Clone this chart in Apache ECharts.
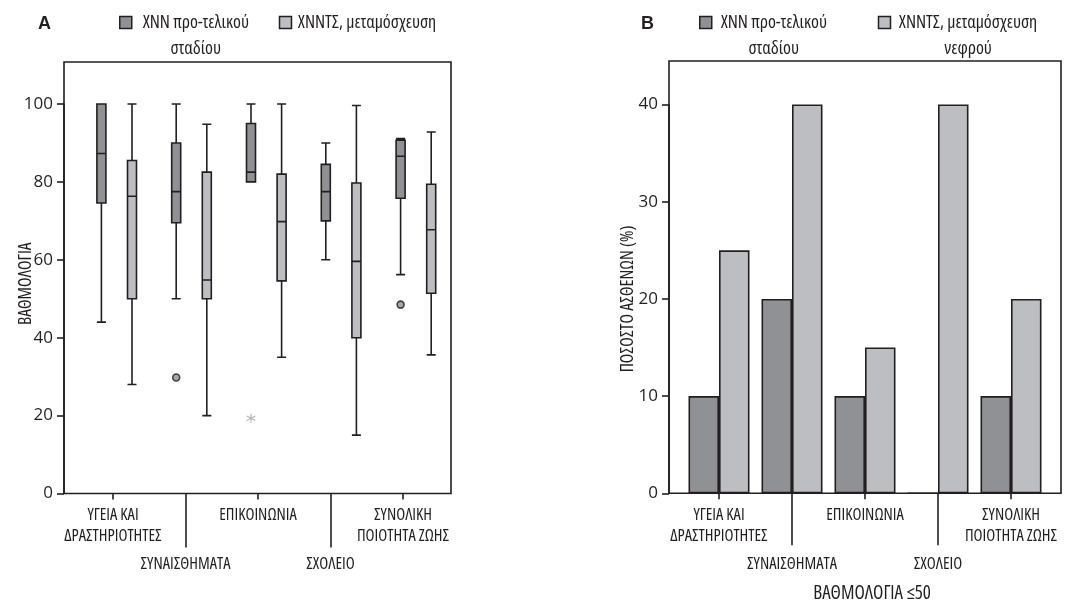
<!DOCTYPE html>
<html>
<head>
<meta charset="utf-8">
<script src="https://cdn.jsdelivr.net/npm/echarts@6/dist/echarts.min.js"></script>
<style>
html,body{margin:0;padding:0;background:#fff;}
#main{width:1081px;height:602px;}
</style>
</head>
<body>
<div id="main"></div>
<script>
// ---------- DATA ----------
const categories = ['ΥΓΕΙΑ ΚΑΙ\nΔΡΑΣΤΗΡΙΟΤΗΤΕΣ', 'ΣΥΝΑΙΣΘΗΜΑΤΑ', 'ΕΠΙΚΟΙΝΩΝΙΑ', 'ΣΧΟΛΕΙΟ', 'ΣΥΝΟΛΙΚΗ\nΠΟΙΟΤΗΤΑ ΖΩΗΣ'];
const seriesNames = ['ΧΝΝ προ-τελικού σταδίου', 'ΧΝΝΤΣ, μεταμόσχευση νεφρού'];
const legendLabelsA = ['ΧΝΝ προ-τελικού\nσταδίου', 'ΧΝΝΤΣ, μεταμόσχευση'];
const legendLabelsB = ['ΧΝΝ προ-τελικού\nσταδίου', 'ΧΝΝΤΣ, μεταμόσχευση\nνεφρού'];

// Panel A: box plots (min, Q1, median, Q3, max)
const darkMin    = [44, 50, 80, 60, 56.2];
const darkQ1     = [74.6, 69.5, 80, 70, 75.8];
const darkMedian = [87.3, 77.5, 82.5, 77.5, 86.6];
const darkQ3     = [100, 90, 95, 84.5, 90.7];
const darkMax    = [100, 100, 100, 90, 91.1];
const lightMin    = [28, 20, 35, 15, 35.6];
const lightQ1     = [50, 50, 54.6, 40, 51.4];
const lightMedian = [76.3, 54.8, 69.8, 59.6, 67.7];
const lightQ3     = [85.5, 82.5, 82, 79.7, 79.4];
const lightMax    = [100, 94.8, 100, 99.6, 92.8];
const darkOutliers = [[1, 29.8], [4, 48.5]];   // [category index, value]
const darkExtremes = [[2, 19.3]];
const scoreTicks = [0, 20, 40, 60, 80, 100];

// Panel B: percentage of patients with score <= 50
const darkPct  = [10, 20, 10, 0, 10];
const lightPct = [25, 40, 15, 40, 20];
const pctTicks = [0, 10, 20, 30, 40];

// ---------- STYLE ----------
const INK = '#231f20';
const DARK = '#909195';
const LIGHT = '#bdbec2';
const NARROW = "'Open Sans','Roboto Condensed',sans-serif";
const COND = 'condensed';
const NUMF = "'Open Sans','Noto Sans',sans-serif";
const ASTERISK = 'path://M4.4 0L5.6 0L5.6 10L4.4 10Z M0.37 3.02L0.97 1.98L9.63 6.98L9.03 8.02Z M9.03 1.98L9.63 3.02L0.97 8.02L0.37 6.98Z';

const boxData = (mn, q1, md, q3, mx) => mn.map((v, i) => [v, q1[i], md[i], q3[i], mx[i]]);

const chart = echarts.init(document.getElementById('main'), null, {renderer: 'canvas'});

function g(left, top, width, height, show) {
  const o = {left, top, width, height, outerBoundsMode: 'none', containLabel: false};
  if (show) { o.show = true; o.borderColor = INK; o.borderWidth = 1.6; o.backgroundColor = 'transparent'; }
  return o;
}
const grids = [
  g(64, 62, 387, 431.5, true),      // 0 frame A
  g(64, 104, 374, 389.5),           // 1 dark boxes A (+ y axis)
  g(94.6, 104, 374, 389.5),         // 2 light boxes A
  g(76.75, 104, 362.5, 389.5),      // 3 labels A (short ticks)
  g(76.75, 104, 362.5, 389.5),      // 4 labels A (long ticks)
  g(669, 61, 392, 432.3, true),     // 5 frame B
  g(669, 104.5, 392, 388.8),        // 6 y axis B
  g(682.5, 104.5, 365, 388.8),      // 7 bars B (short ticks)
  g(682.5, 104.5, 365, 388.8)       // 8 labels B (long ticks)
];

const hiddenX = (gi) => ({type: 'value', gridIndex: gi, show: false});
const hiddenY = (gi, max) => ({type: 'value', gridIndex: gi, show: false, min: 0, max: max});
const hiddenCatX = (gi) => ({type: 'category', gridIndex: gi, data: categories, show: false});

function labelAxis(gi, even, tickLen, margin, extra) {
  const sel = (i) => (i % 2 === 0) === even;
  return Object.assign({
    type: 'category', gridIndex: gi, data: categories, position: 'bottom',
    axisLine: {show: false},
    axisTick: {show: true, alignWithLabel: true, length: tickLen, interval: sel,
               lineStyle: {color: INK, width: 1.6}},
    axisLabel: {show: true, interval: sel, margin: margin, color: INK,
                fontFamily: NARROW, fontStyle: COND, fontSize: 16.5, lineHeight: 21},
    splitLine: {show: false}
  }, extra || {});
}

function valueAxisVisible(gi, ticks, name, nameGap, namePad) {
  return {
    type: 'value', gridIndex: gi, min: ticks[0], max: ticks[ticks.length - 1],
    interval: ticks[1] - ticks[0],
    axisLine: {show: true, lineStyle: {color: INK, width: 1.6}},
    axisTick: {show: true, length: 7, lineStyle: {color: INK, width: 1.6}},
    axisLabel: {show: true, margin: 11, color: INK, fontFamily: NUMF, fontSize: 17},
    splitLine: {show: false},
    name: name, nameLocation: 'middle', nameRotate: 90, nameGap: nameGap,
    nameMoveOverlap: false,
    nameTextStyle: {color: INK, fontFamily: NARROW, fontStyle: COND, fontSize: 17.5, padding: namePad}
  };
}

function legendFor(left, labels, widths, gap) {
  const rs = (w) => ({width: w, align: 'center', fontFamily: NARROW, fontStyle: COND, fontSize: 18, lineHeight: 26, color: INK});
  return {
    left: left, top: -16.5, padding: 0, orient: 'horizontal',
    icon: 'rect', itemWidth: 12, itemHeight: 12, itemGap: gap,
    itemStyle: {borderColor: INK, borderWidth: 1.5},
    selectedMode: false,
    data: [
      {name: seriesNames[0], itemStyle: {color: DARK, borderColor: INK, borderWidth: 1.5}},
      {name: seriesNames[1], itemStyle: {color: LIGHT, borderColor: INK, borderWidth: 1.5}}
    ],
    formatter: (name) => {
      const i = seriesNames.indexOf(name);
      const lines = labels[i].split('\n');
      const key = 'w' + i;
      const blanks = [];
      for (let k = 1; k < lines.length; k++) blanks.push('{' + key + '| }');
      return blanks.concat(lines.map(l => '{' + key + '|' + l + '}')).join('\n');
    },
    textStyle: {
      color: INK, fontFamily: NARROW, fontStyle: COND, fontSize: 18, lineHeight: 26,
      rich: {w0: rs(widths[0]), w1: rs(widths[1])}
    }
  };
}

const boxStyle = (c) => ({color: c, borderColor: INK, borderWidth: 1.6});

const option = {
  animation: false,
  backgroundColor: '#fff',
  title: [
    {text: 'A', left: 38, top: 15, padding: 0, textStyle: {fontFamily: "'Liberation Sans',Arial,sans-serif", fontWeight: 'bold', fontSize: 18, color: INK}},
    {text: 'B', left: 641, top: 15, padding: 0, textStyle: {fontFamily: "'Liberation Sans',Arial,sans-serif", fontWeight: 'bold', fontSize: 18, color: INK}}
  ],
  legend: [
    legendFor(119, legendLabelsA, [118, 141], 24),
    legendFor(699, legendLabelsB, [114, 145], 47)
  ],
  grid: grids,
  xAxis: [
    hiddenX(0),
    hiddenCatX(1),
    hiddenCatX(2),
    labelAxis(3, true, 6, 11),
    labelAxis(4, false, 54, 60),
    hiddenX(5),
    hiddenX(6),
    labelAxis(7, true, 6, 11),
    labelAxis(8, false, 52, 60, {
      name: 'ΒΑΘΜΟΛΟΓΙΑ ≤50', nameLocation: 'middle', nameGap: 91, nameMoveOverlap: false,
      nameTextStyle: {color: INK, fontFamily: NARROW, fontStyle: COND, fontSize: 19, padding: [0, 0, 0, 14]}
    })
  ],
  yAxis: [
    hiddenY(0, 110),
    valueAxisVisible(1, scoreTicks, 'ΒΑΘΜΟΛΟΓΙΑ', 29, [0, 0, 0, 30]),
    hiddenY(2, 100),
    hiddenY(3, 100),
    hiddenY(4, 100),
    hiddenY(5, 44),
    valueAxisVisible(6, pctTicks, 'ΠΟΣΟΣΤΟ ΑΣΘΕΝΩΝ (%)', 32, 0),
    hiddenY(7, 40),
    hiddenY(8, 40)
  ],
  series: [
    {
      name: seriesNames[0], type: 'boxplot', xAxisIndex: 1, yAxisIndex: 1,
      boxWidth: [9, 9], itemStyle: boxStyle(DARK), emphasis: {disabled: true},
      data: boxData(darkMin, darkQ1, darkMedian, darkQ3, darkMax)
    },
    {
      name: seriesNames[1], type: 'boxplot', xAxisIndex: 2, yAxisIndex: 2,
      boxWidth: [9, 9], itemStyle: boxStyle(LIGHT), emphasis: {disabled: true},
      data: boxData(lightMin, lightQ1, lightMedian, lightQ3, lightMax)
    },
    {
      name: 'outliers', type: 'scatter', xAxisIndex: 1, yAxisIndex: 1,
      symbol: 'circle', symbolSize: 7,
      itemStyle: {color: DARK, borderColor: INK, borderWidth: 1.6},
      emphasis: {disabled: true},
      data: darkOutliers
    },
    {
      name: 'extremes', type: 'scatter', xAxisIndex: 1, yAxisIndex: 1,
      symbol: ASTERISK, symbolSize: 9,
      itemStyle: {color: '#a3a3a6'},
      emphasis: {disabled: true},
      data: darkExtremes
    },
    {
      name: seriesNames[0], type: 'bar', xAxisIndex: 7, yAxisIndex: 7,
      barWidth: 30.5, barGap: '0%',
      itemStyle: {color: DARK, borderColor: INK, borderWidth: 1.6},
      emphasis: {disabled: true},
      data: darkPct
    },
    {
      name: seriesNames[1], type: 'bar', xAxisIndex: 7, yAxisIndex: 7,
      barWidth: 30.5, barGap: '0%',
      itemStyle: {color: LIGHT, borderColor: INK, borderWidth: 1.6},
      emphasis: {disabled: true},
      data: lightPct
    }
  ]
};
chart.setOption(option);
</script>
</body>
</html>
